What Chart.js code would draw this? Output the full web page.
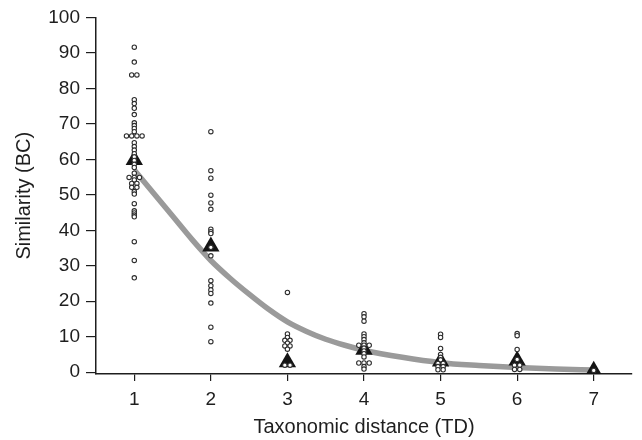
<!DOCTYPE html>
<html>
<head>
<meta charset="utf-8">
<script src="https://cdn.jsdelivr.net/npm/chart.js@4"></script>
<style>
    html, body { margin: 0; padding: 0; background: #fff; }
    #wrap { width: 642px; height: 440px; }
</style>
</head>
<body>
<div id="wrap"><canvas id="chartTD" width="642" height="440"></canvas></div>
<script>
// =================
// DATA
// =================
let tdValues = [1, 2, 3, 4, 5, 6, 7];
let yTicks = [0, 10, 20, 30, 40, 50, 60, 70, 80, 90, 100];

// similarity of each pair, per taxonomic distance
let bcTD1 = [91.6, 87.4, 83.8, 83.8, 76.8, 75.7, 74.4, 72.6, 70.3, 69.5, 68.7, 67.8,
    66.6, 66.6, 66.6, 66.6, 64.7, 63.6, 62.6, 61.6, 60.7, 59.7, 58.6, 57.7, 56.1,
    54.9, 54.9, 54.9, 54.2, 53.2, 53.2, 52.1, 52.1, 50.9, 50.2, 47.5, 45.5, 44.9,
    44.3, 43.8, 36.8, 31.5, 26.6];
let bcTD2 = [67.8, 56.8, 54.7, 49.9, 47.7, 45.9, 40.3, 39.6, 39.1, 35.2, 32.8, 25.8,
    24.4, 23.2, 22.2, 19.5, 12.7, 8.6];
let bcTD3 = [22.5, 10.8, 9.8, 9.0, 9.0, 8.2, 7.4, 7.4, 6.5, 2.0, 2.0];
let bcTD4 = [16.5, 15.6, 14.4, 10.8, 10.0, 9.2, 8.3, 7.6, 7.6, 7.6, 6.8, 6.0, 5.2,
    4.3, 2.6, 2.6, 2.6, 1.6, 0.9];
let bcTD5 = [10.7, 9.8, 6.7, 5.0, 4.2, 3.5, 2.5, 2.5, 1.6, 1.6, 0.7, 0.7];
let bcTD6 = [10.9, 10.3, 6.4, 3.6, 2.0, 2.0, 0.8, 0.8];
let bcTD7 = [0.5];

// triangles (central value per TD)
let bcCentral = [59.8, 35.4, 2.8, 6.3, 3.0, 3.3, 0.4];

// fitted curve
let curveTD = [1, 1.25, 1.5, 1.75, 2, 2.25, 2.5, 2.75, 3, 3.25, 3.5, 3.75, 4, 4.5, 5, 5.5, 6, 6.5, 7];
let curveBC = [57, 50.5, 44, 37.5, 31.5, 26.5, 22, 17.8, 14.2, 11.5, 9.3, 7.6, 6.2, 4.2, 2.7, 1.9, 1.3, 0.9, 0.6];

// =================
// HELPERS
// =================
// equal values in one column are put side by side
function spreadColumn(td, values) {
    let count = {};
    let used = {};
    let out = [];
    values.forEach(v => count[v] = (count[v] || 0) + 1);
    values.forEach(v => {
        let k = used[v] || 0;
        used[v] = k + 1;
        out.push({ x: td + (k - (count[v] - 1) / 2) * 0.068, y: v });
    });
    return out;
}

let columns = [bcTD1, bcTD2, bcTD3, bcTD4, bcTD5, bcTD6, bcTD7];
let circlePoints = [];
columns.forEach((col, i) => {
    circlePoints = circlePoints.concat(spreadColumn(tdValues[i], col));
});

let trianglePoints = tdValues.map((td, i) => ({ x: td, y: bcCentral[i] }));
let curvePoints = curveTD.map((td, i) => ({ x: td, y: curveBC[i] }));

// =================
// CHART
// =================
let textColor = "#1e1e1e";
let fontFamily = "'Liberation Sans', Arial, sans-serif";

let ctx = document.getElementById("chartTD").getContext("2d");
let chartTD = new Chart(ctx, {
    type: "scatter",
    data: {
        datasets: [
            {
                label: "fit",
                data: curvePoints,
                showLine: true,
                borderColor: "#9a9a9a",
                borderWidth: 5.5,
                pointRadius: 0,
                cubicInterpolationMode: "monotone",
                order: 3
            },
            {
                label: "central",
                data: trianglePoints,
                pointStyle: "triangle",
                pointRadius: 10,
                backgroundColor: "#141414",
                borderColor: "#141414",
                borderWidth: 0,
                order: 2
            },
            {
                label: "pairs",
                data: circlePoints,
                pointStyle: "circle",
                pointRadius: 2.2,
                backgroundColor: "#ffffff",
                borderColor: "#2e2e2e",
                borderWidth: 1.1,
                order: 1
            }
        ]
    },
    options: {
        responsive: false,
        animation: false,
        devicePixelRatio: 1,
        layout: { padding: { top: 15, right: 3, left: 0, bottom: 0 } },
        plugins: {
            legend: { display: false },
            tooltip: { enabled: false }
        },
        scales: {
            x: {
                type: "linear",
                min: 0.5,
                max: 7.5,
                afterBuildTicks: s => { s.ticks = tdValues.map(v => ({ value: v })); },
                afterFit: s => { s.height = 66; },
                grid: { drawOnChartArea: false, tickLength: 7, color: textColor, lineWidth: 1.2 },
                border: { color: textColor, width: 1.5 },
                ticks: { color: textColor, padding: 7, font: { family: fontFamily, size: 19 } },
                title: {
                    display: true,
                    text: "Taxonomic distance (TD)",
                    color: textColor,
                    font: { family: fontFamily, size: 20 },
                    padding: { top: 0, bottom: 1 }
                }
            },
            y: {
                type: "linear",
                min: -0.5,
                max: 100,
                afterBuildTicks: s => { s.ticks = yTicks.map(v => ({ value: v })); },
                afterFit: s => { s.width = 96; },
                grid: { drawOnChartArea: false, tickLength: 10, color: textColor, lineWidth: 1.2 },
                border: { color: textColor, width: 1.5 },
                ticks: { color: textColor, padding: 6, font: { family: fontFamily, size: 19 } },
                title: {
                    display: true,
                    text: "Similarity (BC)",
                    color: textColor,
                    font: { family: fontFamily, size: 20 },
                    padding: { top: 12, bottom: 0 }
                }
            }
        }
    }
});
</script>
</body>
</html>
